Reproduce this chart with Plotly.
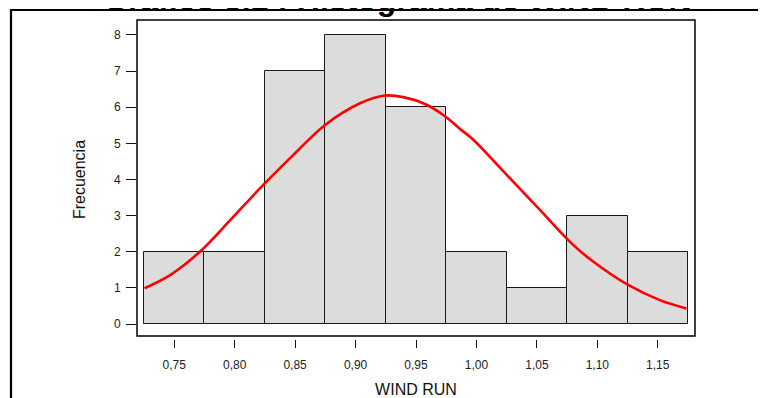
import plotly.graph_objects as go

# ---- data ----
bin_centers = [0.75, 0.80, 0.85, 0.90, 0.95, 1.00, 1.05, 1.10, 1.15]
counts = [2, 2, 7, 8, 6, 2, 1, 3, 2]
bin_width = 0.05

tick_values = [0.75, 0.80, 0.85, 0.90, 0.95, 1.00, 1.05, 1.10, 1.15]
tick_labels = ["0,75", "0,80", "0,85", "0,90", "0,95", "1,00", "1,05", "1,10", "1,15"]

# fitted normal curve
curve_x = [0.7255, 0.7469, 0.7712, 0.7965, 0.8211, 0.8486, 0.8748, 0.9037,
           0.9230, 0.9395, 0.9588, 0.9740, 0.9864, 0.9974, 1.0250, 1.0525,
           1.0800, 1.0965, 1.1255, 1.1517, 1.1737]
curve_y = [0.99, 1.36, 2.00, 2.88, 3.76, 4.68, 5.51, 6.11,
           6.32, 6.28, 6.07, 5.75, 5.40, 5.10, 4.13, 3.16,
           2.19, 1.73, 1.08, 0.66, 0.43]

title_text = "<b>Gráfico 3.1 : Histograma de WIND RUN</b>"
x_title = "WIND RUN"
y_title = "Frecuencia"

FONT = "Liberation Sans, Arial, sans-serif"

fig = go.Figure()
fig.add_trace(go.Bar(
    x=bin_centers, y=counts, width=bin_width,
    marker=dict(color="#DCDCDC", line=dict(color="#1a1a1a", width=1)),
    hoverinfo="skip",
))
fig.add_trace(go.Scatter(
    x=curve_x, y=curve_y, mode="lines",
    line=dict(color="#FF0000", width=2.6, shape="spline"),
    hoverinfo="skip",
))

# page body has an 8px margin, so the figure is drawn 8px smaller and offset
OFF = 8
W, H = 766 - OFF, 398 - OFF
ml, mr, mt, mb = 137 - OFF, 71, 20 - OFF, 59
pw = W - ml - mr
ph = H - mt - mb


def py(win_y):
    """window pixel y -> paper fraction"""
    fy = win_y - OFF
    return (mt + ph - fy) / ph


def px(win_x):
    fx = win_x - OFF
    return (fx - ml) / pw


fig.update_layout(
    width=W, height=H,
    autosize=False,
    margin=dict(l=ml, r=mr, t=mt, b=mb, pad=0, autoexpand=False),
    paper_bgcolor="white", plot_bgcolor="white",
    showlegend=False,
    bargap=0,
    font=dict(family=FONT, color="#222222"),
    xaxis=dict(
        range=[0.71921, 1.18079],
        automargin=False,
        showgrid=False, zeroline=False, showline=False,
        ticks="outside", ticklen=8, tickwidth=1, tickcolor="#111111",
        tickmode="array", tickvals=tick_values, ticktext=tick_labels,
        ticklabelstandoff=7,
        tickfont=dict(size=12, family=FONT, color="#222222"),
        title=dict(text=x_title, font=dict(size=16, family=FONT, color="#111111"), standoff=15),
    ),
    yaxis=dict(
        range=[-0.415, 8.415],
        automargin=False,
        showgrid=False, zeroline=False, showline=False,
        ticks="outside", ticklen=10, tickwidth=1, tickcolor="#111111",
        tickmode="linear", tick0=0, dtick=1,
        ticklabelstandoff=3,
        tickfont=dict(size=12, family=FONT, color="#222222"),
        title=dict(text=y_title, font=dict(size=16, family=FONT, color="#111111"), standoff=24),
    ),
    shapes=[
        # plot frame
        dict(type="rect", xref="paper", yref="paper", x0=0, x1=1, y0=py(336), y1=1,
             line=dict(color="#000000", width=1.5), layer="above"),
        # outer border
        dict(type="rect", xref="paper", yref="paper",
             x0=px(11), x1=px(800), y0=py(440), y1=py(10),
             line=dict(color="#000000", width=2.2), layer="above"),
    ],
    annotations=[
        dict(text=title_text, xref="paper", yref="paper",
             x=px(397), y=1, yshift=21,
             xanchor="center", yanchor="middle", showarrow=False,
             font=dict(size=32, family=FONT, color="#000000")),
    ],
)

fig.write_html("out.html")
